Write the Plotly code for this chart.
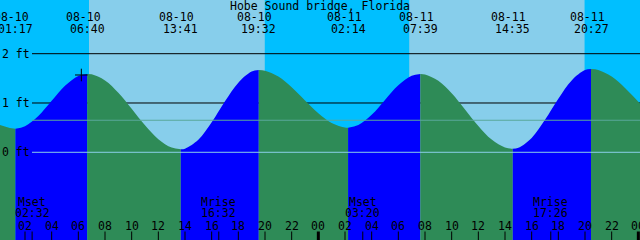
import plotly.graph_objects as go

# ---------------- data ----------------
station = "Hobe Sound bridge, Florida"

# hourly tide heights (ft), hours counted from 08-10 00:00
hours = [0, 1, 2, 3, 4, 5, 6, 7, 8, 9, 10, 11, 12, 13, 14, 15, 16, 17, 18, 19,
         20, 21, 22, 23, 24, 25, 26, 27, 28, 29, 30, 31, 32, 33, 34, 35, 36, 37,
         38, 39, 40, 41, 42, 43, 44, 45, 46, 47, 48, 48.5]
heights = [0.565, 0.487, 0.528, 0.736, 1.043, 1.348, 1.548, 1.581, 1.458, 1.209,
           0.885, 0.549, 0.267, 0.095, 0.072, 0.253, 0.607, 1.033, 1.412, 1.637,
           1.656, 1.537, 1.320, 1.053, 0.793, 0.595, 0.503, 0.553, 0.762, 1.063,
           1.359, 1.552, 1.580, 1.452, 1.198, 0.870, 0.534, 0.257, 0.096, 0.090,
           0.292, 0.659, 1.087, 1.458, 1.667, 1.670, 1.535, 1.303, 1.024, 0.887]

# high / low tides
ext_day = [0, 0, 0, 0, 1, 1, 1, 1]
ext_dates = ["08-10", "08-10", "08-10", "08-10", "08-11", "08-11", "08-11", "08-11"]
ext_clock = ["01:17", "06:40", "13:41", "19:32", "02:14", "07:39", "14:35", "20:27"]
ext_heights = [0.48, 1.59, 0.06, 1.67, 0.50, 1.59, 0.07, 1.69]

# sun
sunrise_day = [0, 1]
sunrise_clock = ["06:48", "06:49"]
sunset_day = [0, 1]
sunset_clock = ["19:59", "19:58"]

# moon
moon_day = [0, 0, 1, 1]
moon_event = ["Mset", "Mrise", "Mset", "Mrise"]
moon_clock = ["02:32", "16:32", "03:20", "17:26"]

# axis
tick_hours = list(range(0, 49, 2))
tick_labels = ["%02d" % (h % 24) for h in tick_hours]
level_labels = ["2 ft", "1 ft", "0 ft"]
level_values = [2, 1, 0]
msl_level = 0.65
datum_level = 0.0
now_time = 6.225
now_height = 1.568

# ---------------- styles ----------------
DAY = "#87CEEB"
NIGHT = "#00BFFF"
FLOOD = "#0000FF"
EBB = "#2E8B57"
MSL_COLOR = "#5AA89A"
DATUM_COLOR = "#8ACFE8"
FONT = "DejaVu Sans Mono"
FS = 11.5
W, H = 640, 240
X_RANGE = [0.125, 48.125]
Y_RANGE = [-1.779, 3.089]


def to_h(day, clock):
    hh, mm = clock.split(":")
    return day * 24 + int(hh) + int(mm) / 60.0


ext_times = [to_h(d, c) for d, c in zip(ext_day, ext_clock)]
rise_t = [to_h(d, c) for d, c in zip(sunrise_day, sunrise_clock)]
set_t = [to_h(d, c) for d, c in zip(sunset_day, sunset_clock)]
moon_t = [to_h(d, c) for d, c in zip(moon_day, moon_clock)]

# merge curve points with extremes
pts = sorted(list(zip(hours, heights)) + list(zip(ext_times, ext_heights)))

fig = go.Figure()

# water segments between extremes (filled from the curve down to below the axis)
bottom = Y_RANGE[0] - 1
bounds = [pts[0][0]] + ext_times + [pts[-1][0]]
for i in range(len(bounds) - 1):
    a, b = bounds[i], bounds[i + 1]
    seg = [p for p in pts if a <= p[0] <= b]
    sx = [p[0] for p in seg]
    sy = [p[1] for p in seg]
    rising = sy[-1] > sy[0]
    fig.add_trace(go.Scatter(
        x=[sx[0], sx[-1]], y=[bottom, bottom], mode="lines",
        line=dict(width=0), hoverinfo="skip", showlegend=False))
    fig.add_trace(go.Scatter(
        x=sx, y=sy, mode="lines", line=dict(width=0, shape="spline", smoothing=1.0),
        fill="tonexty", fillcolor=FLOOD if rising else EBB,
        hoverinfo="skip", showlegend=False))

# now mark
fig.add_trace(go.Scatter(
    x=[now_time], y=[now_height], mode="markers",
    marker=dict(symbol="cross-thin", size=9, line=dict(width=1, color="black")),
    hoverinfo="skip", showlegend=False))

shapes = []
for r, s in zip(rise_t, set_t):
    shapes.append(dict(type="rect", xref="x", yref="paper", x0=r, x1=s, y0=0, y1=1,
                       fillcolor=DAY, line=dict(width=0), layer="below"))
for v in level_values:
    if v != datum_level:
        shapes.append(dict(type="line", xref="paper", yref="y", x0=32 / W, x1=1,
                           y0=v, y1=v, line=dict(color="black", width=1), layer="below"))
shapes.append(dict(type="line", xref="paper", yref="y", x0=32 / W, x1=1,
                   y0=msl_level, y1=msl_level, line=dict(color=MSL_COLOR, width=1), layer="above"))
shapes.append(dict(type="line", xref="paper", yref="y", x0=32 / W, x1=1,
                   y0=datum_level, y1=datum_level, line=dict(color=DATUM_COLOR, width=1), layer="above"))

# bottom ticks
for h in tick_hours:
    shapes.append(dict(type="line", xref="x", yref="paper", x0=h, x1=h, y0=0, y1=8.5 / H,
                       line=dict(color="black", width=3 if h % 24 == 0 else 1), layer="above"))
for t in moon_t:
    shapes.append(dict(type="line", xref="x", yref="paper", x0=t, x1=t, y0=0, y1=8.5 / H,
                       line=dict(color="black", width=1), layer="above"))

ann = []
font = dict(family=FONT, size=FS, color="black")


def py(p):
    return 1 - p / H


ann.append(dict(text=station, xref="paper", yref="paper", x=0.5, y=py(5.5),
                xanchor="center", yanchor="middle", showarrow=False, font=font))
for t, d, c in zip(ext_times, ext_dates, ext_clock):
    ann.append(dict(text=d, xref="x", yref="paper", x=t, y=py(17), xshift=-4,
                    xanchor="center", yanchor="middle", showarrow=False, font=font))
    ann.append(dict(text=c, xref="x", yref="paper", x=t, y=py(29),
                    xanchor="center", yanchor="middle", showarrow=False, font=font))
for lab, v in zip(level_labels, level_values):
    ann.append(dict(text=lab, xref="paper", yref="y", x=0, y=v, xshift=0,
                    xanchor="left", yanchor="middle", showarrow=False, font=font))
for t, e, c in zip(moon_t, moon_event, moon_clock):
    ann.append(dict(text=e, xref="x", yref="paper", x=t, y=py(201.5),
                    xanchor="center", yanchor="middle", showarrow=False, font=font))
    ann.append(dict(text=c, xref="x", yref="paper", x=t, y=py(213),
                    xanchor="center", yanchor="middle", showarrow=False, font=font))
for h, lab in zip(tick_hours, tick_labels):
    ann.append(dict(text=lab, xref="x", yref="paper", x=h, y=py(225.5),
                    xanchor="center", yanchor="middle", showarrow=False, font=font))

fig.update_layout(
    width=W, height=H, autosize=False,
    margin=dict(l=0, r=0, t=0, b=0, pad=0),
    plot_bgcolor=NIGHT, paper_bgcolor=NIGHT,
    xaxis=dict(range=X_RANGE, visible=False, fixedrange=True),
    yaxis=dict(range=Y_RANGE, visible=False, fixedrange=True),
    shapes=shapes, annotations=ann, showlegend=False,
)

fig.write_html("out.html", config={"displayModeBar": False})
